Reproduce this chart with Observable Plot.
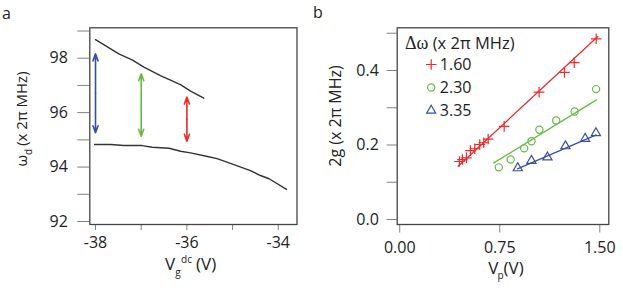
<!DOCTYPE html>
<html>
<head>
<meta charset="utf-8">
<script src="https://cdn.jsdelivr.net/npm/d3@7"></script>
<script src="https://cdn.jsdelivr.net/npm/@observablehq/plot@0.6"></script>
<style>
  html, body { margin: 0; padding: 0; background: #fff; }
  #wrap { position: relative; width: 623px; height: 288px; overflow: hidden; font-family: "Open Sans", sans-serif; }
  #wrap > svg { position: absolute; top: 0; }
</style>
</head>
<body>
<div id="wrap"></div>
<script>
// ---------- Panel a data ----------
const upperX = [-38, -37.49, -37.2, -36.94, -36.58, -36.14, -35.92, -35.63];
const upperY = [98.68, 98.16, 97.94, 97.67, 97.36, 97.03, 96.79, 96.53];
const lowerX = [-38.02, -37.67, -37.38, -36.98, -36.76, -36.39, -36.14, -35.92, -35.55, -35.34, -34.97, -34.61, -34.39, -34.2, -33.82];
const lowerY = [94.83, 94.83, 94.79, 94.79, 94.73, 94.69, 94.58, 94.52, 94.39, 94.31, 94.09, 93.87, 93.69, 93.57, 93.18];
const arrowX = [-38, -37, -36];
const arrowLo = [95.26, 95.13, 94.95];
const arrowHi = [98.16, 97.43, 96.57];
const arrowColors = ["#3a4ea6", "#66bb44", "#ee2a2a"];
const aXTicks = [-38, -37, -36, -35, -34];
const aXLabels = [-38, -36, -34];
const aYTicks = [92, 93, 94, 95, 96, 97, 98, 99];
const aYLabels = [92, 94, 96, 98];

// ---------- Panel b data ----------
const seriesLabels = ["1.60", "2.30", "3.35"];
const seriesColors = ["#ee2a2a", "#66bb44", "#3a4ea6"];
const seriesSymbols = ["plus", "circle", "triangle"];
const redX = [0.448, 0.470, 0.50, 0.530, 0.5625, 0.60, 0.63, 0.663, 0.783, 1.045, 1.235, 1.308, 1.473];
const redY = [0.1557, 0.161, 0.1655, 0.185, 0.190, 0.2013, 0.206, 0.216, 0.25, 0.342, 0.395, 0.421, 0.485];
const greenX = [0.7425, 0.832, 0.933, 0.988, 1.047, 1.173, 1.311, 1.472];
const greenY = [0.140, 0.161, 0.191, 0.210, 0.241, 0.266, 0.290, 0.350];
const blueX = [0.885, 0.9875, 1.1075, 1.2425, 1.39, 1.471];
const blueY = [0.138, 0.158, 0.167, 0.197, 0.217, 0.232];
const redFitX = [0.438, 1.485], redFitY = [0.143, 0.491];
const greenFitX = [0.705, 1.475], greenFitY = [0.152, 0.321];
const blueFitX = [0.883, 1.473], blueFitY = [0.136, 0.227];
const bXTicks = [0, 0.75, 1.5];
const bYTicks = [0, 0.1, 0.2, 0.3, 0.4, 0.5];
const bYLabels = [0, 0.2, 0.4];

const zip = (xs, ys) => xs.map((x, i) => ({x, y: ys[i]}));
const style = {fontFamily: "Open Sans", fontSize: "16px", color: "#222", background: "transparent", overflow: "visible"};

// ---------- Panel a ----------
const arrows = arrowX.map((x, i) => ({x, lo: arrowLo[i], hi: arrowHi[i], c: arrowColors[i]}));
const arrowMarks = [];
arrows.forEach(a => {
  const mid = (a.lo + a.hi) / 2;
  arrowMarks.push(Plot.arrow([a], {x1: "x", y1: () => mid, x2: "x", y2: "hi", stroke: a.c, strokeWidth: 1.6, headLength: 7, headAngle: 40}));
  arrowMarks.push(Plot.arrow([a], {x1: "x", y1: () => mid, x2: "x", y2: "lo", stroke: a.c, strokeWidth: 1.6, headLength: 7, headAngle: 40}));
});

const svgA = Plot.plot({
  width: 311, height: 288,
  marginLeft: 89.3, marginRight: 14.5, marginTop: 27.3, marginBottom: 64,
  style,
  x: {domain: [-38.125, -33.59], ticks: aXTicks, tickFormat: d => aXLabels.includes(d) ? String(d) : "", tickSize: 6, tickPadding: 6.5, label: null},
  y: {domain: [91.89, 99.117], ticks: aYTicks, tickFormat: d => aYLabels.includes(d) ? String(d) : "", tickSize: 12, tickPadding: 10, label: null},
  marks: [
    Plot.line(zip(upperX, upperY), {x: "x", y: "y", stroke: "#333", strokeWidth: 1.4}),
    Plot.line(zip(lowerX, lowerY), {x: "x", y: "y", stroke: "#333", strokeWidth: 1.4}),
    ...arrowMarks,
    Plot.frame({stroke: "#444", strokeWidth: 1.3})
  ]
});
svgA.style.left = "0px";

// ---------- Panel b ----------
const seriesData = [zip(redX, redY), zip(greenX, greenY), zip(blueX, blueY)];
const fitData = [zip(redFitX, redFitY), zip(greenFitX, greenFitY), zip(blueFitX, blueFitY)];
const sizes = [3.5, 3.6, 3.4];
const bMarks = [];
seriesData.forEach((data, i) => {
  bMarks.push(Plot.line(fitData[i], {x: "x", y: "y", stroke: seriesColors[i], strokeWidth: 1.3}));
  bMarks.push(Plot.dot(data, {x: "x", y: "y", stroke: seriesColors[i], symbol: () => seriesSymbols[i], r: sizes[i], strokeWidth: 1.2, fill: "none"}));
  // legend entry
  bMarks.push(Plot.dot([seriesLabels[i]], {frameAnchor: "top-left", dx: 34, dy: 36.7 + 23 * i, stroke: seriesColors[i], symbol: () => seriesSymbols[i], r: sizes[i], strokeWidth: 1.2, fill: "none"}));
  bMarks.push(Plot.text([seriesLabels[i]], {frameAnchor: "top-left", dx: 42.6, dy: 36.7 + 23 * i, text: d => d, textAnchor: "start", lineAnchor: "middle", fill: "#222", fontSize: 16}));
});

const svgB = Plot.plot({
  width: 312, height: 288,
  marginLeft: 85.7, marginRight: 14.7, marginTop: 27.3, marginBottom: 64,
  style,
  x: {domain: [-0.019, 1.5675], ticks: bXTicks, tickFormat: d => d.toFixed(2), tickSize: 8.5, tickPadding: 8.2, label: null},
  y: {domain: [-0.0134, 0.5146], ticks: bYTicks, tickFormat: d => bYLabels.some(v => Math.abs(v - d) < 1e-9) ? d.toFixed(1) : "", tickSize: 10, tickPadding: 8.4, label: null},
  marks: [
    ...bMarks,
    Plot.frame({stroke: "#444", strokeWidth: 1.3})
  ]
});
svgB.style.left = "311px";

const wrap = document.getElementById("wrap");
wrap.appendChild(svgA);
wrap.appendChild(svgB);

// tick colour
[svgA, svgB].forEach(svg => {
  d3.select(svg).selectAll('g[aria-label*="axis"] path, g[aria-label*="axis"] line').attr("stroke", "#808080");
});

// ---------- Labels (real text) ----------
const serif = "'Liberation Serif', 'DejaVu Serif', serif";
function addText(svg, build) {
  const t = d3.select(svg).append("text").attr("fill", "#222").attr("text-anchor", "start").style("font-family", "Open Sans");
  build(t);
  return t;
}
// panel letters
addText(svgA, t => t.attr("x", 2).attr("y", 19).attr("font-size", 16).text("a"));
addText(svgB, t => t.attr("x", 2).attr("y", 18).attr("font-size", 16).text("b"));

// panel a x label: V_g^dc (V)
addText(svgA, t => {
  t.attr("x", 165).attr("y", 270).attr("font-size", 17);
  t.append("tspan").text("V");
  t.append("tspan").attr("dx", 0).attr("dy", 6).attr("font-size", 10).text("g");
  t.append("tspan").attr("dx", 0.5).attr("dy", -13).attr("font-size", 10).text("dc");
  t.append("tspan").attr("dx", 4).attr("dy", 7).text("(V)");
});
// panel a y label: ω_d (x 2π MHz)
addText(svgA, t => {
  t.attr("transform", "translate(27,119) rotate(-90)").attr("text-anchor", "middle").attr("font-size", 15);
  t.append("tspan").text("ω");
  t.append("tspan").attr("dy", 5).attr("font-size", 10).text("d");
  t.append("tspan").attr("dx", 3).attr("dy", -5).text("(x 2π MHz)");
});
// panel b x label: V_p(V)
addText(svgB, t => {
  t.attr("x", 177.3).attr("y", 274).attr("font-size", 17);
  t.append("tspan").text("V");
  t.append("tspan").attr("dx", -1).attr("dy", 5).attr("font-size", 10).text("p");
  t.append("tspan").attr("dy", -5).text("(V)");
});
// panel b y label
addText(svgB, t => {
  t.attr("transform", "translate(30,116) rotate(-90)").attr("text-anchor", "middle").attr("font-size", 16).text("2g (x 2π MHz)");
});
// legend title
addText(svgB, t => {
  t.attr("x", 94).attr("y", 48.5).attr("font-size", 16.5);
  t.append("tspan").style("font-family", serif).attr("font-size", 18).text("Δω");
  t.append("tspan").text(" (x 2π MHz)");
});
</script>
</body>
</html>
